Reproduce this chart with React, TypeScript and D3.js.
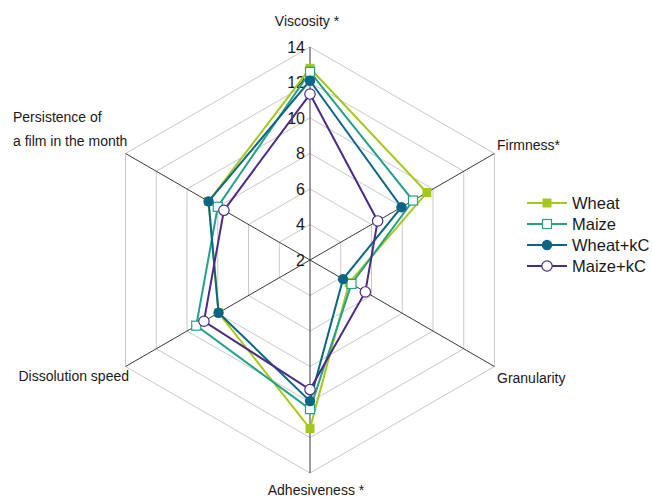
import React from "react";
import * as d3 from "d3";

const axes = [
  ["Viscosity *"],
  ["Firmness*"],
  ["Granularity"],
  ["Adhesiveness *"],
  ["Dissolution speed"],
  ["Persistence of", "a film in the month"],
];
const ticks = [2, 4, 6, 8, 10, 12, 14];
const seriesNames = ["Wheat", "Maize", "Wheat+kC", "Maize+kC"];
const wheat = [12.8, 9.6, 4.55, 11.5, 7.95, 8.6];
const maize = [12.6, 8.7, 4.7, 10.4, 9.4, 8.0];
const wheatKC = [12.1, 7.95, 4.15, 9.95, 7.95, 8.6];
const maizeKC = [11.35, 6.4, 5.6, 9.3, 8.9, 7.6];
const colors = ["#a5c81c", "#26a088", "#0d6586", "#4a2c82"];
const markers = ["filledSquare", "openSquare", "filledCircle", "openCircle"];

const W = 652;
const H = 497;
const cx = 310;
const cy = 260;
const R = 213;

const rScale = d3.scaleLinear().domain([2, 14]).range([0, R]);
const angle = (i: number) => (i * 2 * Math.PI) / axes.length;
const pt = (i: number, v: number): [number, number] => {
  const r = rScale(v);
  return [cx + r * Math.sin(angle(i)), cy - r * Math.cos(angle(i))];
};

const labelPos = [
  { x: 307, y: 26, anchor: "middle" },
  { x: 497, y: 150, anchor: "start" },
  { x: 497, y: 383, anchor: "start" },
  { x: 316, y: 495, anchor: "middle" },
  { x: 129, y: 381, anchor: "end" },
  { x: 13, y: 122, anchor: "start" },
];

function Marker({ type, x, y, color }: { type: string; x: number; y: number; color: string }) {
  if (type === "filledSquare")
    return <rect x={x - 4.5} y={y - 4.5} width={9} height={9} fill={color} />;
  if (type === "openSquare")
    return <rect x={x - 4.5} y={y - 4.5} width={9} height={9} fill="#fff" stroke={color} strokeWidth={1.2} />;
  if (type === "filledCircle") return <circle cx={x} cy={y} r={5.2} fill={color} />;
  return <circle cx={x} cy={y} r={5.2} fill="#fff" stroke={color} strokeWidth={1.2} />;
}

export default function App() {
  const data = [wheat, maize, wheatKC, maizeKC];
  const line = d3.line<[number, number]>().curve(d3.curveLinearClosed);
  const font = "'Liberation Sans', Arial, sans-serif";
  return (
    <svg width={W} height={H} style={{ position: "absolute", left: 0, top: 0, background: "#fff" }} fontFamily={font}>
      {/* grid rings */}
      {ticks.slice(1).map((t) => (
        <path
          key={t}
          d={line(axes.map((_, i) => pt(i, t)))!}
          fill="none"
          stroke="#c8c8c8"
          strokeWidth={1}
        />
      ))}
      {/* spokes */}
      {axes.map((_, i) => {
        const [x, y] = pt(i, 14);
        return <line key={i} x1={cx} y1={cy} x2={x} y2={y} stroke="#3a3a3a" strokeWidth={1} />;
      })}
      {/* tick labels */}
      {ticks.map((t) => (
        <text key={t} x={305} y={pt(0, t)[1]} dy="0.35em" textAnchor="end" fontSize={16} fill="#1a1a1a">
          {t}
        </text>
      ))}
      {/* series */}
      {data.map((vals, s) => {
        const pts = vals.map((v, i) => pt(i, v));
        return (
          <g key={s}>
            <path d={line(pts)!} fill="none" stroke={colors[s]} strokeWidth={2} />
            {pts.map(([x, y], i) => (
              <Marker key={i} type={markers[s]} x={x} y={y} color={colors[s]} />
            ))}
          </g>
        );
      })}
      {/* axis labels */}
      {axes.map((lines, i) => (
        <text key={i} x={labelPos[i].x} y={labelPos[i].y} textAnchor={labelPos[i].anchor as any} fontSize={14} fill="#1a1a1a">
          {lines.map((l, k) => (
            <tspan key={k} x={labelPos[i].x} dy={k === 0 ? 0 : 24}>
              {l}
            </tspan>
          ))}
        </text>
      ))}
      {/* legend */}
      {seriesNames.map((n, s) => {
        const y = 203 + s * 21;
        return (
          <g key={n}>
            <line x1={527} x2={567} y1={y} y2={y} stroke={colors[s]} strokeWidth={2} />
            <Marker type={markers[s]} x={547} y={y} color={colors[s]} />
            <text x={572} y={y} dy="0.35em" fontSize={16.5} fill="#1a1a1a">
              {n}
            </text>
          </g>
        );
      })}
    </svg>
  );
}
